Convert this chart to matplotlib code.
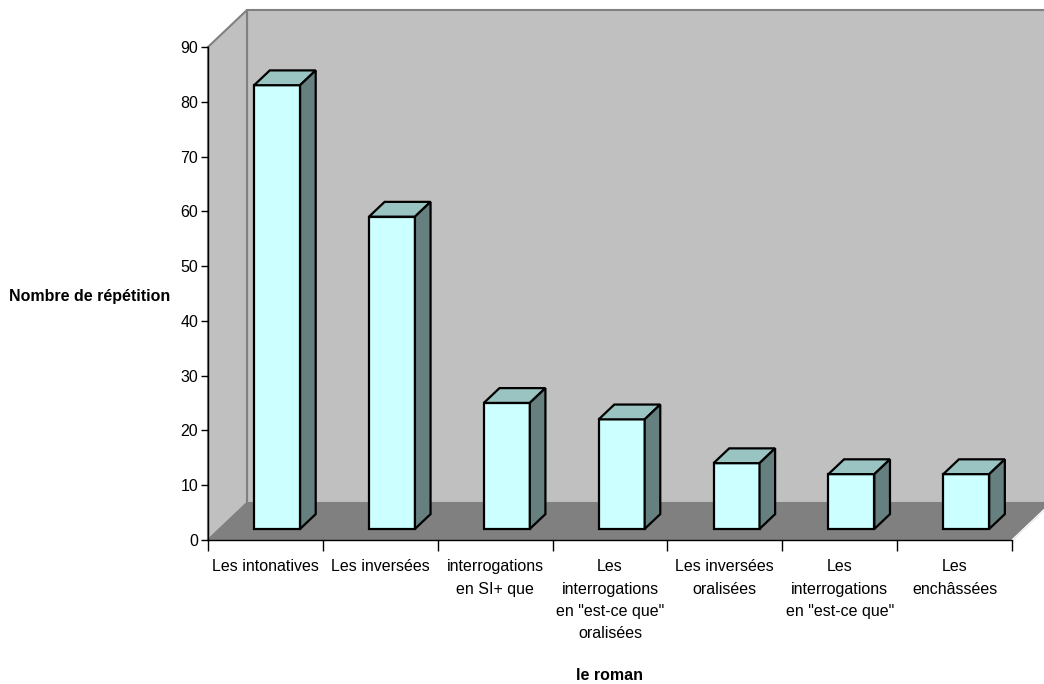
import matplotlib
matplotlib.use("Agg")
import matplotlib.pyplot as plt
from matplotlib.patches import Polygon

plt.rcParams['font.family'] = ['Liberation Sans', 'DejaVu Sans']

categories = [
    "Les intonatives",
    "Les inversées",
    "interrogations\nen SI+ que",
    "Les\ninterrogations\nen \"est-ce que\"\noralisées",
    "Les inversées\noralisées",
    "Les\ninterrogations\nen \"est-ce que\"",
    "Les\nenchâssées",
]
values = [81, 57, 23, 20, 12, 10, 10]
y_ticks = [0, 10, 20, 30, 40, 50, 60, 70, 80, 90]
y_label = "Nombre de répétition"
x_label = "le roman"

W, H, DPI = 1044, 684, 100
fig = plt.figure(figsize=(W / DPI, H / DPI), dpi=DPI)
fig.patch.set_facecolor("white")

# plot-area rectangle (front plane) in figure pixels
left_px, right_px, top_px, bottom_px = 208, 1012, 47, 540
ax = fig.add_axes([left_px / W, (H - bottom_px) / H,
                   (right_px - left_px) / W, (bottom_px - top_px) / H])
n = len(categories)
ymax = 90
ax.set_xlim(0, n)
ax.set_ylim(0, ymax)
ax.set_facecolor("none")
for s in ("top", "right"):
    ax.spines[s].set_visible(False)
ax.spines["left"].set_color("black")
ax.spines["bottom"].set_color("black")
ax.spines["left"].set_linewidth(1)
ax.spines["bottom"].set_linewidth(1)

# oblique depth, expressed in data units via pixel scale
px_per_x = (right_px - left_px) / n
px_per_y = (bottom_px - top_px) / ymax
depth_dx_px, depth_dy_px = 39, 37
ddx = depth_dx_px / px_per_x
ddy = depth_dy_px / px_per_y

wall_c = "#C0C0C0"
floor_c = "#808080"
edge_c = "#808080"

# back wall
ax.add_patch(Polygon([(ddx, ddy), (n + ddx, ddy), (n + ddx, ymax + ddy), (ddx, ymax + ddy)],
                     closed=True, facecolor=wall_c, edgecolor=edge_c, lw=1.5,
                     clip_on=False, zorder=0))
# side wall
ax.add_patch(Polygon([(0, 0), (ddx, ddy), (ddx, ymax + ddy), (0, ymax)],
                     closed=True, facecolor=wall_c, edgecolor=edge_c, lw=1.5,
                     clip_on=False, zorder=0))
# floor
ax.add_patch(Polygon([(0, 0), (n, 0), (n + ddx, ddy), (ddx, ddy)],
                     closed=True, facecolor=floor_c, edgecolor=floor_c, lw=1,
                     clip_on=False, zorder=1))
ax.plot([n, n + ddx], [0, ddy], color="white", lw=1, clip_on=False, zorder=1)

# bars
bar_w = 0.4
f0, f1 = 0.3, 0.7
front_c, top_c, side_c = "#CCFFFF", "#99C4C2", "#668080"
for i, v in enumerate(values):
    x0 = i + 0.5 - bar_w / 2 + f0 * ddx
    x1 = x0 + bar_w
    yb = f0 * ddy
    yt = v + f0 * ddy
    bx = (f1 - f0) * ddx
    by = (f1 - f0) * ddy
    kw = dict(closed=True, edgecolor="black", lw=1.6, joinstyle="miter",
              clip_on=False, zorder=3)
    ax.add_patch(Polygon([(x0, yb), (x1, yb), (x1, yt), (x0, yt)], facecolor=front_c, **kw))
    ax.add_patch(Polygon([(x0, yt), (x1, yt), (x1 + bx, yt + by), (x0 + bx, yt + by)],
                         facecolor=top_c, **kw))
    ax.add_patch(Polygon([(x1, yb), (x1 + bx, yb + by), (x1 + bx, yt + by), (x1, yt)],
                         facecolor=side_c, **kw))

fs = 11.5
# axes ticks
ax.set_yticks(y_ticks)
ax.tick_params(axis="y", direction="out", length=5, width=1, labelsize=fs, pad=2)
ax.set_xticks(range(n + 1))
ax.set_xticklabels([])
ax.tick_params(axis="x", which="major", direction="out", length=8, width=1)
ax.set_xticks([i + 0.5 for i in range(n)], minor=True)
ax.set_xticklabels(categories, minor=True, fontsize=fs, linespacing=1.6, va="top")
ax.tick_params(axis="x", which="minor", length=0, pad=14)

fig.text(170 / W, 1 - 296 / H, y_label, ha="right", va="center",
         fontsize=fs, fontweight="bold")
fig.text(610 / W, 1 - 675 / H, x_label, ha="center", va="center",
         fontsize=fs, fontweight="bold")

fig.savefig("out.png", dpi=DPI, facecolor="white")
